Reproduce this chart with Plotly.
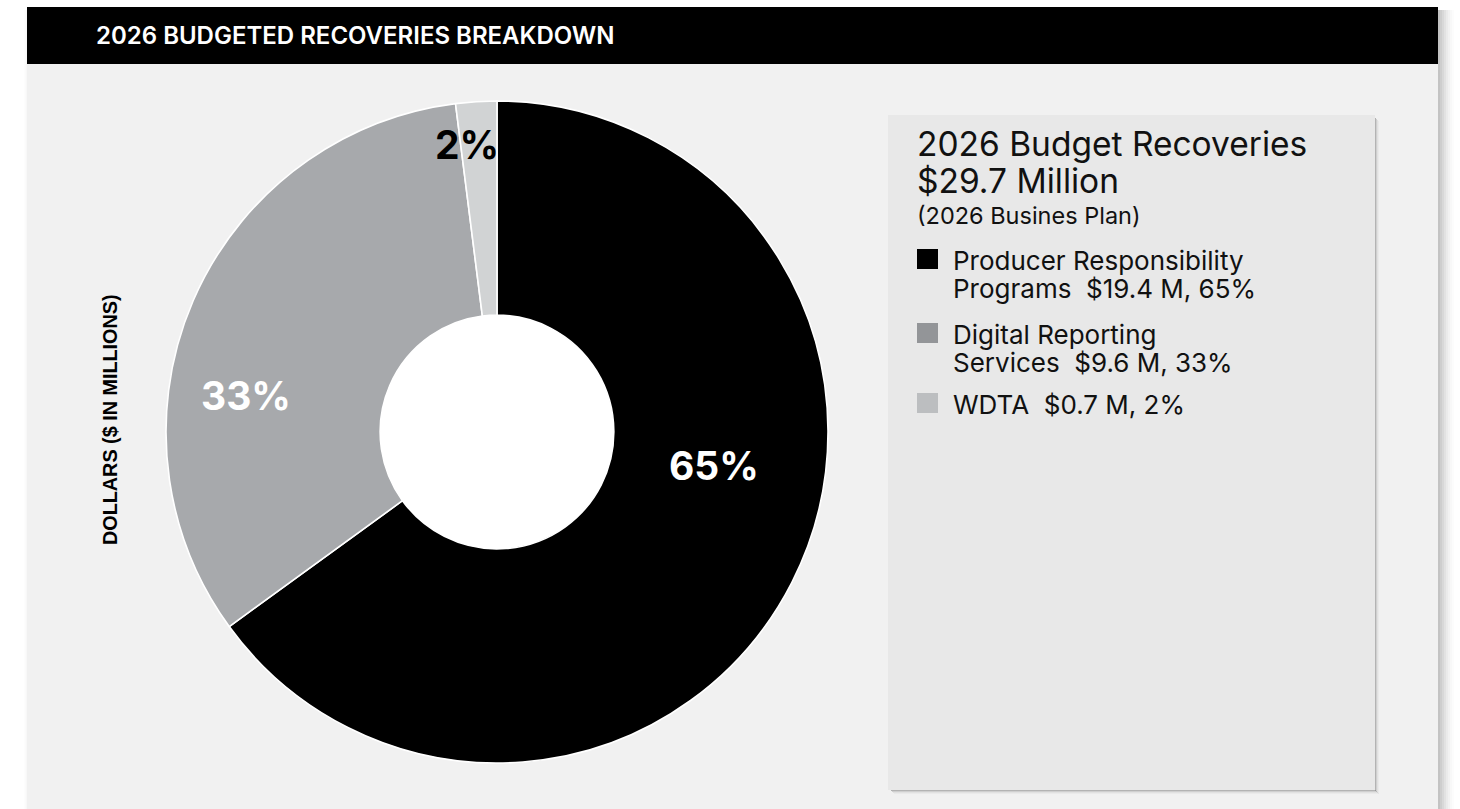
import plotly.graph_objects as go

# ---- data -------------------------------------------------------------
categories = ["Producer Responsibility Programs", "Digital Reporting Services", "WDTA"]
legend_lines = [["Producer Responsibility", "Programs"], ["Digital Reporting", "Services"], ["WDTA"]]
amounts_musd = [19.4, 9.6, 0.7]
shares_pct = [65, 33, 2]
slice_colors = ["#000000", "#A7A9AC", "#D1D3D4"]
swatch_colors = ["#000000", "#939598", "#BCBEC0"]
label_colors = ["#FFFFFF", "#FFFFFF", "#000000"]

total_musd = 29.7
chart_title = "2026 BUDGETED RECOVERIES BREAKDOWN"
axis_title = "DOLLARS ($ IN MILLIONS)"
box_title = ["2026 Budget Recoveries", f"${total_musd} Million"]
box_subtitle = "(2026 Busines Plan)"

# ---- page geometry (pixels) ------------------------------------------
W, H = 1460, 809


def px(x):
    return x / W


def py(y):
    return 1 - y / H


def rect(x0, y0, x1, y1, color, opacity=1.0, layer="below"):
    return dict(type="rect", xref="paper", yref="paper",
                x0=px(x0), x1=px(x1), y0=py(y1), y1=py(y0),
                fillcolor=color, opacity=opacity, line=dict(width=0), layer=layer)


shapes = []
# panel drop shadows
for i, op in enumerate([0.42, 0.34, 0.27, 0.20, 0.14, 0.09, 0.05, 0.025]):
    shapes.append(rect(1438 + 2 * i, 10, 1440 + 2 * i, H, "#707070", op))
for i, op in enumerate([0.05, 0.03, 0.015]):
    shapes.append(rect(26 - i, 10, 27 - i, H, "#707070", op))
# panel body and header band
shapes.append(rect(27, 7, 1438, H, "#F1F1F1"))
shapes.append(rect(27, 7, 1438, 64, "#000000"))

# summary box with shadow
for i, op in enumerate([0.55, 0.30, 0.14, 0.06]):
    shapes.append(rect(1375 + i, 118 + i, 1376 + i, 791 + i, "#808080", op))
    shapes.append(rect(891 + i, 790 + i, 1376 + i, 791 + i, "#808080", op))
shapes.append(rect(888, 115, 1375, 790, "#E8E8E8"))

# pie placement: centre (497, 432), outer radius 331 px
cx, cy, r = 497, 432, 331
dom_x = [px(cx - r), px(cx + r)]
dom_y = [py(cy + r), py(cy - r)]

fig = go.Figure()
# white disc showing through the donut hole
fig.add_trace(go.Pie(values=[1], marker=dict(colors=["#FFFFFF"], line=dict(width=0)),
                     domain=dict(x=dom_x, y=dom_y), textinfo="none", hoverinfo="skip",
                     sort=False, showlegend=False))
fig.add_trace(go.Pie(labels=categories, values=shares_pct, hole=0.353,
                     direction="clockwise", sort=False, rotation=0,
                     marker=dict(colors=slice_colors, line=dict(color="#FFFFFF", width=1.6)),
                     domain=dict(x=dom_x, y=dom_y), textinfo="none",
                     hovertemplate="%{label}: %{value}%<extra></extra>",
                     showlegend=False))

annotations = []
BODY_FONT = "Inter"

# header
annotations.append(dict(text=chart_title, x=px(94), y=py(35.5), xref="paper", yref="paper",
                        xanchor="left", yanchor="middle", showarrow=False,
                        font=dict(family=BODY_FONT, size=24, color="#FFFFFF", weight=600)))
# vertical axis title
annotations.append(dict(text=axis_title, x=px(110), y=py(420), xref="paper", yref="paper",
                        xanchor="center", yanchor="middle", showarrow=False, textangle=-90,
                        font=dict(family="Liberation Sans", size=19.8, color="#000000", weight=700)))

# slice percentage labels
label_pos = [(714, 466), (246, 395), (467, 145)]
for pct, col, (lx, ly) in zip(shares_pct, label_colors, label_pos):
    annotations.append(dict(text=f"{pct}%", x=px(lx), y=py(ly), xref="paper", yref="paper",
                            xanchor="center", yanchor="middle", showarrow=False,
                            font=dict(family=BODY_FONT, size=39, color=col, weight=700)))

# summary box text
for line, yc in zip(box_title, [144, 181]):
    annotations.append(dict(text=line, x=px(915), y=py(yc), xref="paper", yref="paper",
                            xanchor="left", yanchor="middle", showarrow=False,
                            font=dict(family=BODY_FONT, size=33.5, color="#111111")))
annotations.append(dict(text=box_subtitle, x=px(915), y=py(216), xref="paper", yref="paper",
                        xanchor="left", yanchor="middle", showarrow=False,
                        font=dict(family=BODY_FONT, size=23.5, color="#111111")))

entry_tops = [249, 323, 393]
line_step = 28
for lines, amt, pct, col, top in zip(legend_lines, amounts_musd, shares_pct, swatch_colors, entry_tops):
    shapes.append(rect(917, top, 938, top + 20, col, layer="above"))
    for k, line in enumerate(lines):
        txt = line
        if k == len(lines) - 1:
            txt = f"{line}\u00a0\u00a0${amt} M, {pct}%"
        annotations.append(dict(text=txt, x=px(951), y=py(top + 11 + k * line_step),
                                xref="paper", yref="paper", xanchor="left", yanchor="middle",
                                showarrow=False,
                                font=dict(family=BODY_FONT, size=26, color="#111111")))

fig.update_layout(width=W, height=H, margin=dict(l=0, r=0, t=0, b=0),
                  paper_bgcolor="#FFFFFF", plot_bgcolor="#FFFFFF",
                  shapes=shapes, annotations=annotations, showlegend=False)

fig.write_html("out.html", config={"displayModeBar": False})
